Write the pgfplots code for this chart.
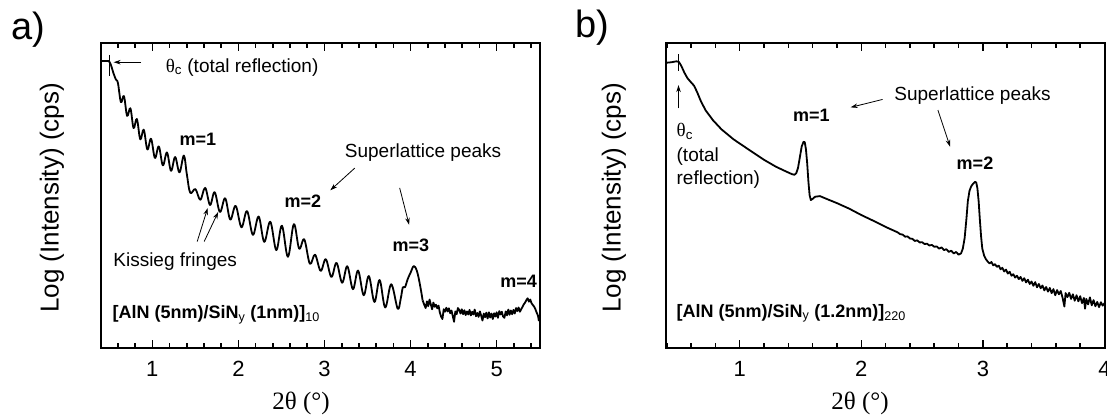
\documentclass[border=0pt]{standalone}
\usepackage{fontspec}
\setmainfont{Liberation Sans}
\newfontfamily\serif{Liberation Serif}
\usepackage{pgfplots}
\pgfplotsset{compat=1.18}
\usetikzlibrary{arrows.meta}
\newcommand{\fs}[1]{\fontsize{#1}{#1}\selectfont}

\pgfplotsset{
  xrdaxis/.style={
    scale only axis, height=305pt, ymin=0, ymax=100, ytick=\empty,
    tick align=inside, xtick pos=both,
    major tick length=8pt, minor tick length=5pt,
    axis line style={line width=2pt},
    every tick/.style={black, line width=1.6pt},
    xticklabel style={font=\fs{22}, yshift=-10pt},
    /pgf/number format/assume math mode=true,
    anchor=south west, clip=true,
  },
  curve/.style={black, line width=1.8pt, no markers, line join=round},
}
\tikzset{arr/.style={-{Stealth[length=7pt,width=4.5pt]}, line width=0.8pt}}

\begin{document}
\begin{tikzpicture}
\path[use as bounding box] (0,0) rectangle (1107pt,416pt);

% ---------------- panel a ----------------
\begin{axis}[xrdaxis, at={(100.7pt,68.3pt)}, width=439pt,
  xmin=0.40, xmax=5.5, xtick={1,2,3,4,5},
  minor xtick={0.4,0.6,0.8,1.2,1.4,1.6,1.8,2.2,2.4,2.6,2.8,3.2,3.4,3.6,3.8,4.2,4.4,4.6,4.8,5.2,5.4}]
\addplot[curve, smooth, tension=0.6] table {
0.40 94.0
0.45 94.0
0.49 94.0
0.515 93.0
0.545 90.3
0.575 88.0
0.60 86.8
0.635 80.5
0.67 82.5
0.707 76.0
0.745 78.5
0.782 72.0
0.82 75.0
0.86 68.3
0.90 71.5
0.942 65.0
0.985 68.5
1.03 62.2
1.075 66.0
1.122 59.8
1.17 64.0
1.217 58.0
1.265 62.5
1.315 57.5
1.366 63.0
1.40 57.0
1.44 50.8
1.50 52.0
1.557 48.5
1.614 52.4
1.67 46.8
1.724 51.0
1.785 44.5
1.846 49.0
1.905 42.0
1.968 46.5
2.035 39.5
2.10 44.8
2.168 37.0
2.235 43.0
2.30 34.7
2.37 41.3
2.44 32.0
2.505 40.0
2.575 29.8
2.644 40.5
2.705 32.5
2.765 35.5
2.83 27.5
2.89 30.5
2.955 25.2
3.015 29.0
3.08 23.2
3.14 27.8
3.205 21.3
3.265 26.7
3.33 19.2
3.39 25.3
3.455 17.2
3.515 23.5
3.58 15.0
3.64 22.2
3.705 13.2
3.775 20.8
3.85 12.8
3.885 16.0
3.91 19.8
3.935 19.8
3.965 22.4
4.00 24.6
4.038 26.8
4.075 25.0
4.11 20.5
4.14 15.5
};
\addplot[curve] table {
4.140 15.5
4.160 14.0
4.175 13.0
4.190 15.2
4.205 13.6
4.220 15.8
4.235 14.2
4.250 12.6
4.265 14.8
4.280 13.4
4.295 14.1
4.310 12.9
4.325 13.8
4.340 11.5
4.355 10.2
4.370 9.4
4.385 12.6
4.400 11.8
4.415 13.1
4.430 11.9
4.445 12.9
4.460 11.3
4.475 12.2
4.490 10.4
4.505 8.5
4.520 11.9
4.535 11.0
4.550 13.0
4.565 12.4
4.580 11.2
4.595 12.6
4.610 11.0
4.625 12.3
4.640 10.7
4.655 11.9
4.670 10.9
4.685 12.4
4.700 10.6
4.715 11.8
4.730 10.9
4.745 12.5
4.760 10.3
4.775 11.4
4.790 10.1
4.805 11.9
4.820 10.5
4.835 8.9
4.850 11.2
4.865 10.0
4.880 11.5
4.895 9.6
4.910 11.6
4.925 9.9
4.940 11.2
4.955 9.4
4.970 11.3
4.985 10.2
5.000 11.6
5.015 9.8
5.030 12.0
5.045 10.9
5.060 11.8
5.075 10.2
5.090 9.8
5.105 11.9
5.120 10.6
5.135 12.5
5.150 10.8
5.165 12.2
5.180 11.0
5.195 12.4
5.210 11.2
5.225 13.0
5.240 12.0
5.255 13.2
5.270 11.8
5.285 12.6
5.300 13.4
5.315 14.2
5.330 14.8
5.345 15.6
5.360 16.2
5.375 15.1
5.390 15.8
5.405 14.6
5.420 14.0
5.435 13.5
5.450 12.6
5.465 11.5
5.480 10.5
5.490 8.9
5.500 9.8
};
\draw[line width=0.8pt] (0.505,96) -- (0.505,89);
\draw[arr] (0.87,93.6) -- (0.55,93.6);
\node[font=\fs{19}, anchor=west, inner sep=0pt] at (1.155,92.0) {{\serif θ}\textsubscript{c} (total reflection)};
\node[font=\bfseries\fs{18}] at (1.53,68.2) {m=1};
\node[font=\fs{19}] at (4.145,64.1) {Superlattice peaks};
\draw[arr] (3.352,58.9) -- (3.067,51.6);
\node[font=\bfseries\fs{18}] at (2.75,48.0) {m=2};
\draw[arr] (3.873,52.4) -- (3.983,40.3);
\node[font=\bfseries\fs{18}] at (4.003,33.7) {m=3};
\node[font=\bfseries\fs{18}] at (5.256,21.7) {m=4};
\node[font=\fs{19}] at (1.265,28.3) {Kissieg fringes};
\draw[arr] (1.521,34.8) -- (1.643,45.8);
\draw[arr] (1.602,34.8) -- (1.765,44.5);
\node[font=\bfseries\fs{18}, anchor=west, inner sep=0pt] at (0.536,10.7) {[AlN (5nm)/SiN\textsubscript{\mdseries y} (1nm)]\textsubscript{\mdseries 10}};
\draw[line width=2pt] (rel axis cs:0,0) rectangle (rel axis cs:1,1);
\end{axis}

% ---------------- panel b ----------------
\begin{axis}[xrdaxis, at={(665.5pt,68.3pt)}, width=439pt,
  xmin=0.39, xmax=4, xtick={1,2,3,4},
  minor xtick={0.4,0.6,0.8,1.2,1.4,1.6,1.8,2.2,2.4,2.6,2.8,3.2,3.4,3.6,3.8}]
\addplot[curve] table {
0.39 93.4
0.44 93.6
0.48 93.9
0.50 93.7
0.52 92.4
0.545 90.2
0.57 88.4
0.60 87.0
0.625 85.9
0.65 83.8
0.68 80.9
0.72 77.8
0.78 74.6
0.85 71.6
0.95 68.3
1.08 64.8
1.20 61.6
1.30 59.3
1.38 57.8
1.43 56.9
1.45 56.7
1.465 57.2
1.48 59.0
1.495 62.5
1.51 66.0
1.525 67.5
1.535 67.4
1.545 65.0
1.555 60.5
1.565 54.5
1.575 50.0
1.585 48.4
1.60 48.8
1.62 49.5
1.66 49.7
1.72 48.7
1.80 47.4
1.90 45.6
2.00 43.5
2.10 41.6
2.20 39.6
2.30 37.8
2.32 37.2
2.34 37.1
2.36 36.4
2.38 36.5
2.40 35.8
2.42 35.7
2.44 35.0
2.46 35.2
2.48 34.5
2.50 34.6
2.52 34.0
2.54 34.1
2.56 33.5
2.58 33.7
2.60 33.1
2.62 33.2
2.64 32.5
2.66 32.9
2.68 32.0
2.70 32.3
2.72 31.4
2.74 31.8
2.76 30.9
2.78 31.4
2.80 30.5
2.82 30.9
2.835 32.5
2.85 36.0
2.865 42.5
2.876 48.0
2.89 51.5
2.905 53.0
2.92 53.8
2.935 54.4
2.945 54.2
2.955 52.2
2.965 48.0
2.975 42.0
2.985 36.5
2.995 32.5
3.01 30.2
3.025 29.0
3.04 28.2
3.055 27.6
3.070 28.1
3.085 27.0
3.100 27.4
3.115 26.5
3.130 26.9
3.145 25.7
3.160 26.2
3.175 25.0
3.190 25.6
3.205 24.3
3.220 24.9
3.235 23.6
3.250 24.1
3.265 23.0
3.280 23.6
3.295 22.5
3.310 23.2
3.325 21.9
3.340 22.8
3.355 21.4
3.370 22.3
3.385 20.9
3.400 21.7
3.415 20.3
3.430 21.5
3.445 19.8
3.460 20.9
3.475 19.5
3.490 20.4
3.505 18.8
3.520 19.9
3.535 18.4
3.550 19.6
3.565 17.9
3.580 19.2
3.595 17.2
3.610 18.9
3.625 17.5
3.640 18.6
3.655 16.4
3.670 13.5
3.680 17.9
3.695 16.6
3.710 18.0
3.725 16.0
3.740 17.5
3.755 15.4
3.770 17.2
3.785 15.2
3.800 16.9
3.815 14.6
3.830 16.3
3.840 12.8
3.850 16.0
3.865 14.2
3.880 16.5
3.895 13.9
3.910 15.6
3.925 13.6
3.940 15.0
3.955 13.3
3.970 14.9
3.985 13.8
4.000 14.6
};
\draw[line width=0.8pt] (0.494,96.2) -- (0.494,90.7);
\draw[arr] (0.497,78.5) -- (0.497,86.1);
\node[font=\fs{19}, anchor=west, inner sep=0pt] at (0.48,71) {{\serif θ}\textsubscript{c}};
\node[font=\fs{19}, anchor=west, inner sep=0pt] at (0.48,62.6) {(total};
\node[font=\fs{19}, anchor=west, inner sep=0pt] at (0.48,55.0) {reflection)};
\node[font=\fs{19}] at (2.915,82.8) {Superlattice peaks};
\draw[arr] (2.175,81.4) -- (1.912,78.8);
\node[font=\bfseries\fs{18}] at (1.59,76.3) {m=1};
\draw[arr] (2.63,77.9) -- (2.73,65.9);
\node[font=\bfseries\fs{18}] at (2.935,60.4) {m=2};
\node[font=\bfseries\fs{18}, anchor=west, inner sep=0pt] at (0.48,11.3) {[AlN (5nm)/SiN\textsubscript{\mdseries y} (1.2nm)]\textsubscript{\mdseries 220}};
\draw[line width=2pt] (rel axis cs:0,0) rectangle (rel axis cs:1,1);
\end{axis}

% ---------------- outer labels ----------------
\node[font=\fs{38}] at (28pt,386pt) {a)};
\node[font=\fs{38}] at (592pt,388pt) {b)};
\node[rotate=90, font=\fs{26}] at (52pt,218pt) {Log (Intensity) (cps)};
\node[rotate=90, font=\fs{26}] at (614pt,218pt) {Log (Intensity) (cps)};
\node[font=\serif\fs{25}] at (301pt,13pt) {2θ (°)};
\node[font=\serif\fs{25}] at (860pt,13pt) {2θ (°)};
\end{tikzpicture}
\end{document}
